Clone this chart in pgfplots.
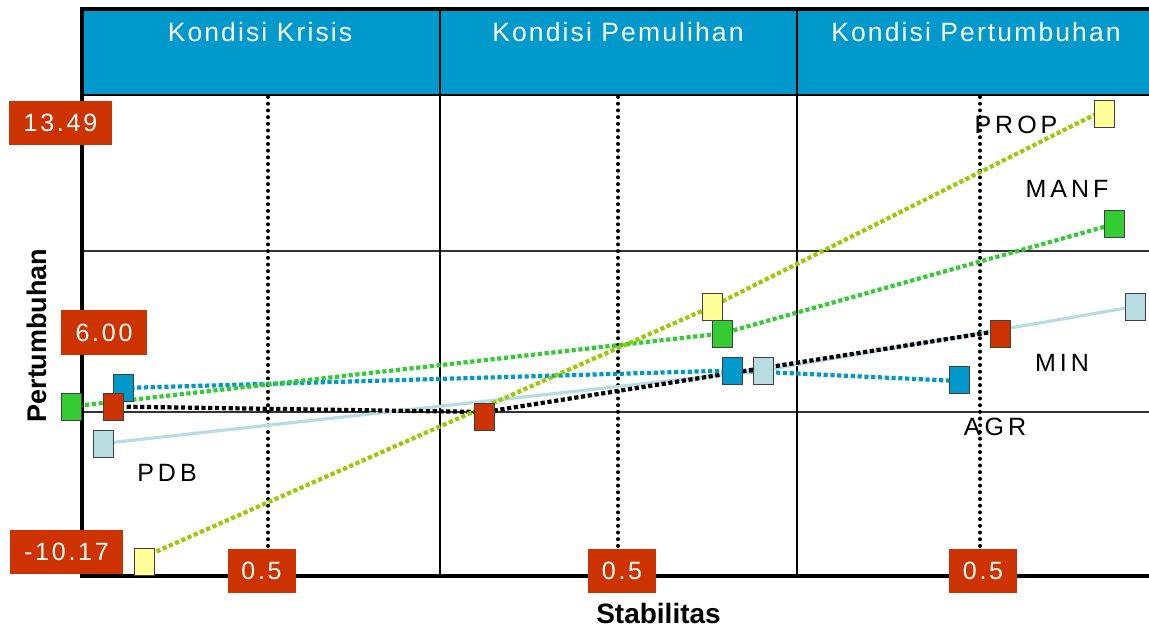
\documentclass[border=0pt]{standalone}
\usepackage{pgfplots}
\pgfplotsset{compat=1.18}
\usepackage{fontspec}
\setmainfont{Liberation Sans}
\newfontfamily\hdrfont[LetterSpace=8]{Liberation Sans}
\newfontfamily\lblfont[LetterSpace=16]{Liberation Sans}
\newfontfamily\numfont[LetterSpace=11]{Liberation Sans}
\definecolor{hdrblue}{HTML}{0099CC}
\definecolor{boxred}{HTML}{CC3300}
\definecolor{propY}{HTML}{FFFF99}
\definecolor{propL}{HTML}{99CC00}
\definecolor{manf}{HTML}{33CC33}
\definecolor{agr}{HTML}{0099CC}
\definecolor{pdb}{HTML}{B7DDE2}
\begin{document}
\begin{tikzpicture}
\begin{axis}[x=0.5pt, y=0.5pt, xmin=0, xmax=1149, ymin=0, ymax=629,
  y dir=reverse, hide axis, clip=false,
  mk/.style={only marks, mark=square*, mark size=5pt,
    mark options={draw=black!75, line width=0.5pt, yscale=1.35, fill=#1}},
  dl/.style={no marks, draw=#1, line width=2.1pt, dash pattern=on 2.1pt off 1.3pt}]
% header band
\fill[hdrblue] (axis cs:83,9) rectangle (axis cs:1149,95);
% grid lines
\draw[black, line width=0.8pt] (axis cs:83,95) -- (axis cs:1149,95);
\draw[black!80, line width=0.75pt] (axis cs:83,251) -- (axis cs:1149,251);
\draw[black!80, line width=0.75pt] (axis cs:83,412) -- (axis cs:1149,412);
\draw[black, line width=0.8pt] (axis cs:440,9) -- (axis cs:440,576);
\draw[black, line width=0.8pt] (axis cs:797,9) -- (axis cs:797,576);
% frame
\draw[black, line width=2pt] (axis cs:1149,8.5) -- (axis cs:82,8.5) -- (axis cs:82,576) -- (axis cs:1149,576);
% dotted stability lines
\foreach \xx in {268,618,980}{
  \edef\tmp{\noexpand\draw[black, line width=2pt, line cap=round, dash pattern=on 0pt off 3.35pt] (axis cs:\xx,97) -- (axis cs:\xx,548);}\tmp
}
% header texts
\node[anchor=base, text=white, font={\hdrfont\fontsize{13.25}{16}\selectfont}] at (axis cs:260,41) {Kondisi Krisis};
\node[anchor=base, text=white, font={\hdrfont\fontsize{13.25}{16}\selectfont}] at (axis cs:618,41) {Kondisi Pemulihan};
\node[anchor=base, text=white, font={\hdrfont\fontsize{13.25}{16}\selectfont}] at (axis cs:976,41) {Kondisi Pertumbuhan};
% series labels
\node[anchor=base, font={\lblfont\fontsize{12.5}{15}\selectfont}] at (axis cs:1016,133) {PROP};
\node[anchor=base, font={\lblfont\fontsize{12.5}{15}\selectfont}] at (axis cs:1067,197) {MANF};
\node[anchor=base, font={\lblfont\fontsize{12.5}{15}\selectfont}] at (axis cs:1062,371) {MIN};
\node[anchor=base, font={\lblfont\fontsize{12.5}{15}\selectfont}] at (axis cs:995,435) {AGR};
\node[anchor=base, font={\lblfont\fontsize{12.5}{15}\selectfont}] at (axis cs:167,481) {PDB};
% markers
\addplot[mk=propY] coordinates {(144,562) (712,306.5) (1104,114)};
\addplot[mk=manf] coordinates {(71.5,406.5) (722,333.5) (1114.5,224)};
\addplot[mk=agr] coordinates {(123.5,388) (732,370.5) (959.5,379.5)};
\addplot[mk=pdb] coordinates {(103,443.5) (763,370.5) (1135,306.5)};
\addplot[mk=boxred] coordinates {(113,406.5) (484.5,416.5) (1000,333.5)};
% lines
\addplot[no marks, draw=pdb, line width=1.6pt] coordinates {(103,443.5) (763,370.5) (1135,306.5)};
\addplot[dl=agr] coordinates {(123.5,388) (732,370.5) (959.5,381)};
\addplot[dl=manf] coordinates {(71.5,406.5) (722,333.5) (1114.5,224)};
\addplot[dl=black] coordinates {(113,406.5) (484.5,412) (998,331)};
\addplot[dl=propL] coordinates {(144,557) (712,306.5) (1102,111)};
% value boxes
\node[fill=boxred, text=white, minimum width=51.5pt, minimum height=22pt, inner sep=0pt, font={\numfont\fontsize{12.5}{15}\selectfont}] at (axis cs:60.5,123) {13.49};
\node[fill=boxred, text=white, minimum width=43pt, minimum height=22.5pt, inner sep=0pt, font={\numfont\fontsize{12.5}{15}\selectfont}] at (axis cs:104,332.5) {6.00};
\node[fill=boxred, text=white, minimum width=56.5pt, minimum height=22pt, inner sep=0pt, font={\numfont\fontsize{12.5}{15}\selectfont}] at (axis cs:66.5,552) {-10.17};
\node[fill=boxred, text=white, minimum width=34pt, minimum height=22pt, inner sep=0pt, font={\numfont\fontsize{12.5}{15}\selectfont}] at (axis cs:261.5,571) {0.5};
\node[fill=boxred, text=white, minimum width=34pt, minimum height=22pt, inner sep=0pt, font={\numfont\fontsize{12.5}{15}\selectfont}] at (axis cs:622,571) {0.5};
\node[fill=boxred, text=white, minimum width=34pt, minimum height=22pt, inner sep=0pt, font={\numfont\fontsize{12.5}{15}\selectfont}] at (axis cs:983,571) {0.5};
% axis titles
\node[rotate=90, anchor=base, font={\bfseries\fontsize{13.5}{16}\selectfont}] at (axis cs:47,335.5) {Pertumbuhan};
\node[anchor=base, font={\bfseries\fontsize{14}{17}\selectfont}] at (axis cs:658.5,623) {Stabilitas};
\end{axis}
\pgfresetboundingbox
\useasboundingbox (current axis.south west) rectangle (current axis.north east);
\end{tikzpicture}
\end{document}
